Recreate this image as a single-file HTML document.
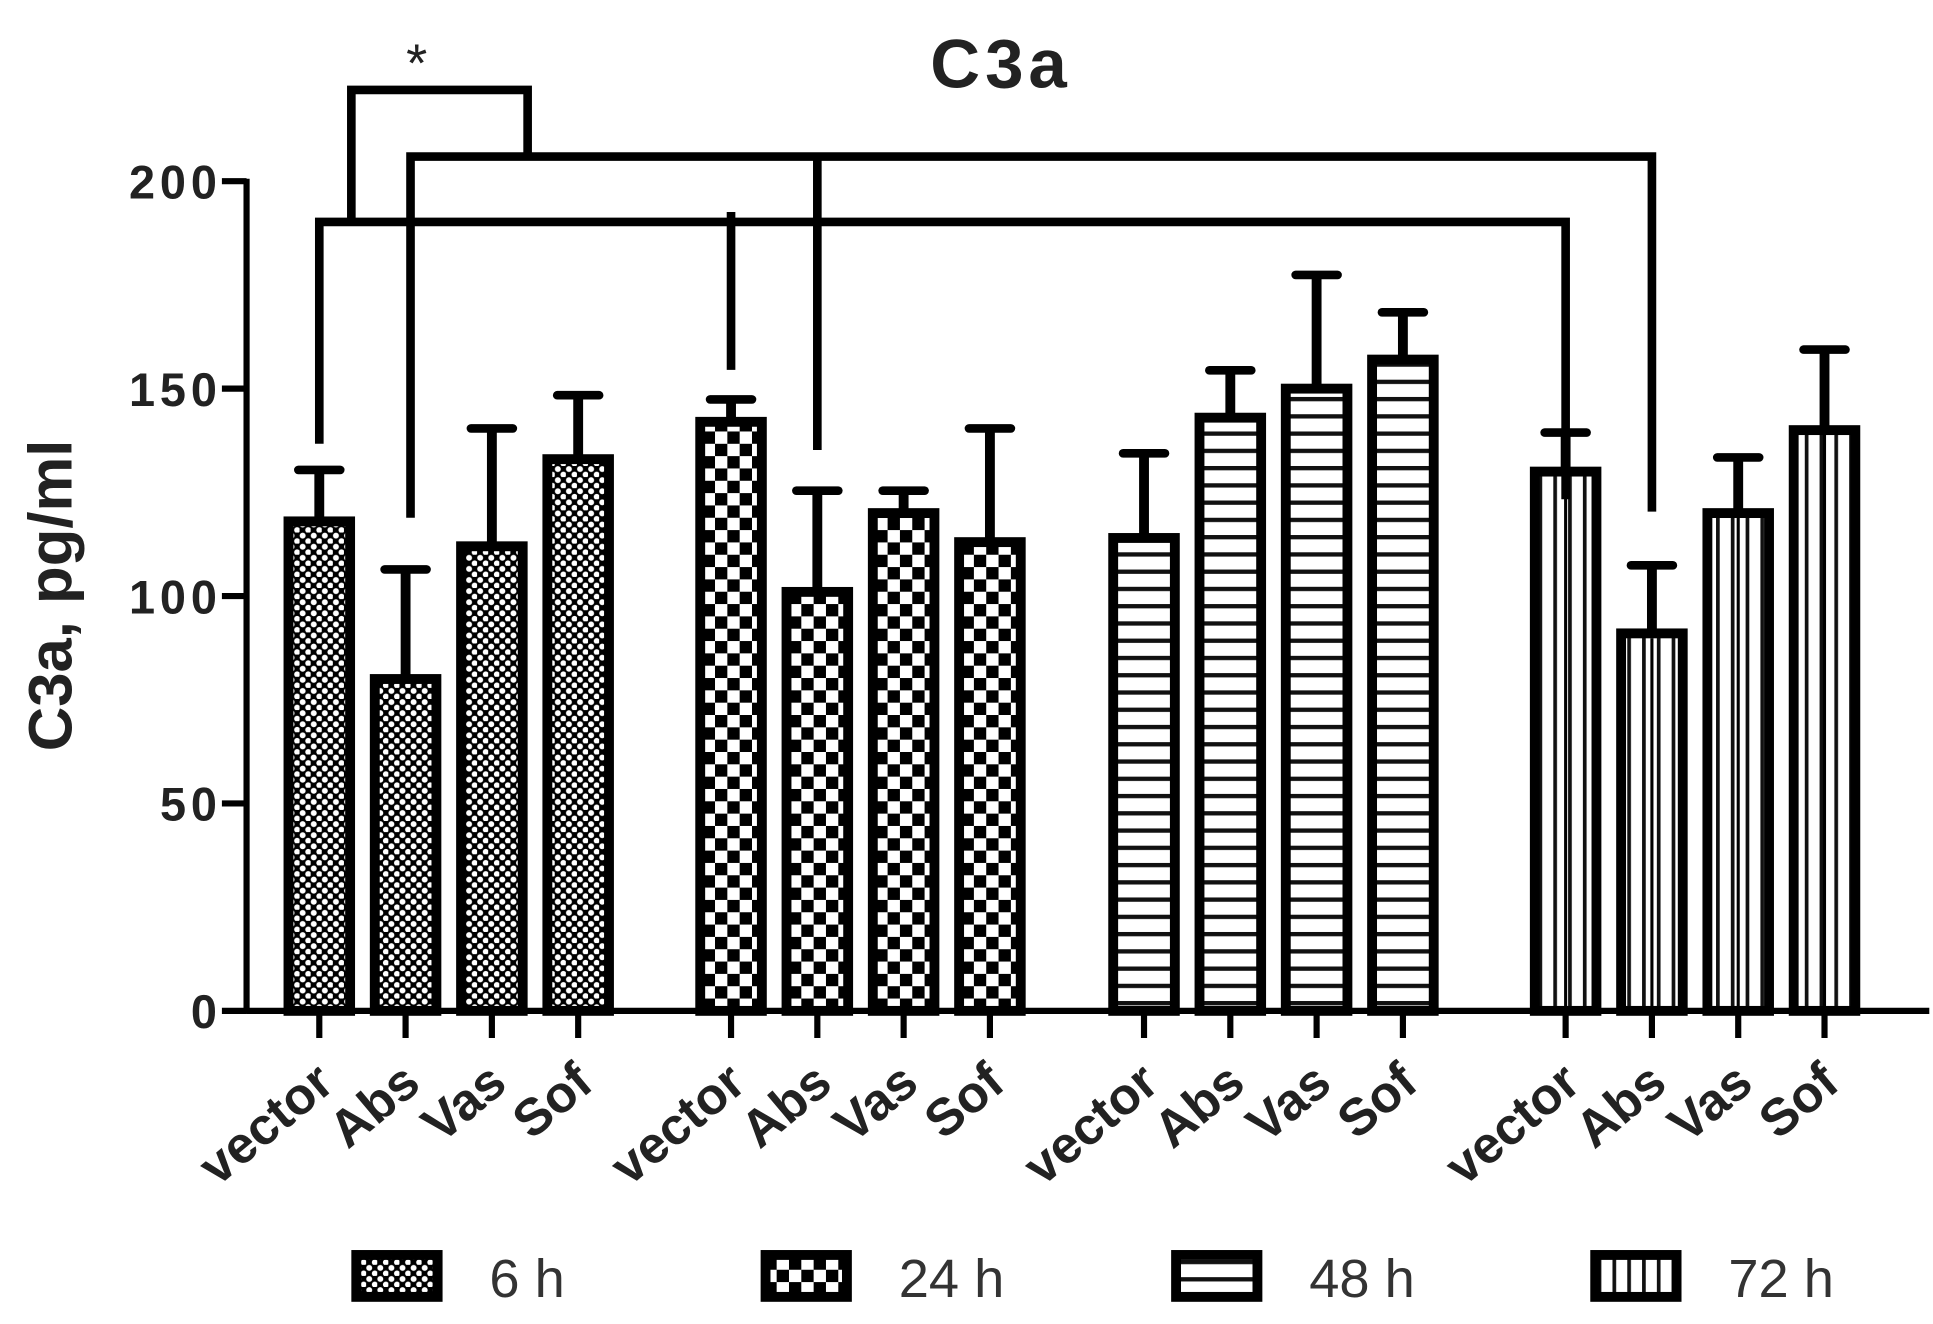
<!DOCTYPE html>
<html><head><meta charset="utf-8"><style>
html,body{margin:0;padding:0;background:#fff;}
svg{display:block;}
</style></head><body>
<svg id="chart" width="1933" height="1324" viewBox="0 0 1568 1074" xmlns="http://www.w3.org/2000/svg">
<defs>
<pattern id="p6" patternUnits="userSpaceOnUse" width="9" height="9">
<rect width="9" height="9" fill="#000"/><circle cx="2.5" cy="2.5" r="2.4" fill="#fff"/><circle cx="7" cy="7" r="2.4" fill="#fff"/>
</pattern>
<pattern id="p24" patternUnits="userSpaceOnUse" width="20" height="20">
<rect width="20" height="20" fill="#fff"/><rect width="10" height="10" fill="#000"/><rect x="10" y="10" width="10" height="10" fill="#000"/>
</pattern>
<pattern id="p48" patternUnits="userSpaceOnUse" width="14" height="14">
<rect width="14" height="14" fill="#fff"/><rect y="0" width="14" height="3.5" fill="#111"/>
</pattern>
<pattern id="p72" patternUnits="userSpaceOnUse" width="12" height="12">
<rect width="12" height="12" fill="#fff"/><rect x="0" width="3" height="12" fill="#111"/>
</pattern>
</defs>
<g id="plot"></g>
</svg>
<script>
const groups = ["6 h","24 h","48 h","72 h"];
const categories = ["vector","Abs","Vas","Sof"];
const values6 = [118,80,112,133];
const values24 = [142,101,120,113];
const values48 = [114,143,150,157];
const values72 = [130,91,120,140];
const err6 = [13,27,29,16];
const err24 = [6,25,6,28];
const err48 = [21,12,28,12];
const err72 = [10,17,14,20];
const yTicks = [0,50,100,150,200];

const series = [values6, values24, values48, values72];
const errs = [err6, err24, err48, err72];
const fills = ["url(#p6)","url(#p24)","url(#p48)","url(#p72)"];
const NS = "http://www.w3.org/2000/svg";
const g = document.getElementById("plot");
const y0 = 820, yTop = 147, x0 = 200;
function y(v){ return y0 - (v/200)*(y0-yTop); }
function xc(gi, ci){ return [259,593,928,1270][gi] + ci*70; }
function mk(tag, attrs, parent){
  const e = document.createElementNS(NS, tag);
  for (const k in attrs) e.setAttribute(k, attrs[k]);
  (parent||g).appendChild(e); return e;
}
let ax = mk("line",{x1:x0,y1:y0,x2:1565,y2:y0,stroke:"#000","stroke-width":5});


let ay = mk("line",{x1:x0,y1:y0+2,x2:x0,y2:yTop-2,stroke:"#000","stroke-width":5});


yTicks.forEach(t=>{
  mk("line",{x1:x0-20,y1:y(t),x2:x0,y2:y(t),stroke:"#000","stroke-width":5});
  const tx = mk("text",{x:x0-20,y:y(t)+14,"text-anchor":"end","font-family":"Liberation Sans, sans-serif","font-weight":"bold","font-size":38,"letter-spacing":4,fill:"#222"});
  tx.textContent = t;
  
  
});
series.forEach((vals, gi)=>{
  vals.forEach((v, ci)=>{
    const cx = xc(gi, ci), w = 50;
    const top = y(v + errs[gi][ci]);
    const st = mk("line",{x1:cx,y1:y(v),x2:cx,y2:top,stroke:"#000","stroke-width":8});
    
    
    mk("line",{x1:cx-17,y1:top+2,x2:cx+17,y2:top+2,stroke:"#000","stroke-width":7,"stroke-linecap":"round"});
    const r = mk("rect",{x:cx-w/2,y:y(v),width:w,height:y0-y(v),fill:fills[gi],stroke:"#000","stroke-width":8});
    
    
    if (gi===3) mk("line",{x1:cx,y1:y(v)+4,x2:cx,y2:y0,stroke:"#000","stroke-width":2.5});
    mk("line",{x1:cx,y1:y0,x2:cx,y2:y0+22,stroke:"#000","stroke-width":5});
    const lb = mk("text",{x:0,y:0,"text-anchor":"end","font-family":"Liberation Sans, sans-serif","font-weight":"bold","font-size":42,fill:"#222",transform:`translate(${cx+14},${882}) rotate(-40)`});
    lb.textContent = categories[ci];
    
    
  });
});
const bs = {stroke:"#000","stroke-width":7,fill:"none","stroke-linejoin":"miter"};
let b1 = mk("path",Object.assign({d:"M259 360 L259 180 L1270 180 L1270 405 M593 172 L593 300"},bs));


let b2 = mk("path",Object.assign({d:"M333 420 L333 127 L1340 127 L1340 415 M663 127 L663 365"},bs));


let b3 = mk("path",Object.assign({d:"M285 180 L285 73 L428 73 L428 127"},bs));


let star = mk("text",{x:338,y:66,"text-anchor":"middle","font-family":"Liberation Sans, sans-serif","font-size":44,fill:"#222"});
star.textContent = "*";


let tt = mk("text",{x:812,y:71,"text-anchor":"middle","font-family":"Liberation Sans, sans-serif","font-weight":"bold","font-size":56,"letter-spacing":4,fill:"#222"});
tt.textContent = "C3a";


let yt = mk("text",{x:0,y:0,"text-anchor":"middle","font-family":"Liberation Sans, sans-serif","font-weight":"bold","font-size":50,fill:"#222",transform:"translate(58,483) rotate(-90)"});
yt.textContent = "C3a, pg/ml";


[285,617,950,1290].forEach((lx, gi)=>{
  const lr = mk("rect",{x:lx+4,y:1018,width:66,height:34,fill:fills[gi],stroke:"#000","stroke-width":8});
  
  
  const lt = mk("text",{x:lx+112,y:1052,"font-family":"Liberation Sans, sans-serif","font-size":44,fill:"#333"});
  lt.textContent = groups[gi];
  
  
});
</script>
</body></html>
